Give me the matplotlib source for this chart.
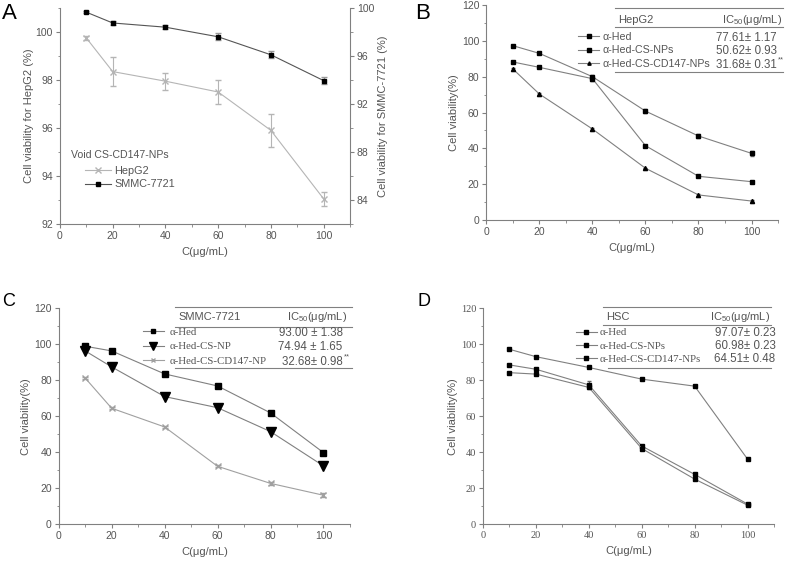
import matplotlib
matplotlib.use('Agg')
import matplotlib.pyplot as plt
from matplotlib.lines import Line2D
from matplotlib.ticker import MultipleLocator

plt.rcParams.update({
    'font.family': 'Liberation Sans',
    'mathtext.fontset': 'custom',
    'mathtext.rm': 'Liberation Sans',
    'mathtext.default': 'regular',
    'font.size': 8,
})

TXT = '#555555'
LINE = '#808080'
SANS = 'Liberation Sans'
SERIF = 'Liberation Serif'

conc = [10, 20, 40, 60, 80, 100]

# A: void CS-CD147-NPs
a_hepg2 = [99.75, 98.35, 97.95, 97.5, 95.9, 93.05]
a_hepg2_err = [0.1, 0.6, 0.35, 0.5, 0.7, 0.3]
a_smmc = [99.65, 98.75, 98.4, 97.6, 96.1, 93.95]
a_smmc_err = [0.1, 0.15, 0.15, 0.3, 0.3, 0.3]

# B: HepG2
b_hed = [97.3, 93.0, 80.0, 60.8, 46.9, 37.2]
b_hed_err = [0.5, 0.6, 1.0, 1.2, 0.9, 1.2]
b_np = [88.2, 85.2, 78.9, 41.5, 24.4, 21.4]
b_np_err = [0.4, 0.5, 1.2, 0.5, 0.5, 0.5]
b_cd = [84.3, 70.3, 50.8, 28.9, 14.0, 10.6]
b_cd_err = [0.4, 0.4, 0.4, 0.4, 0.4, 0.4]
b_ic50 = ['77.61\u00b1 1.17', '50.62\u00b1 0.93', '31.68\u00b1 0.31']
b_sig = ['', '', '**']

# C: SMMC-7721
c_hed = [98.9, 96.3, 83.5, 76.8, 61.8, 39.7]
c_np = [96.3, 87.4, 70.9, 64.7, 51.4, 32.3]
c_cd = [81.2, 64.4, 54.0, 32.1, 22.6, 16.0]
c_cd_err = [0.5, 0.6, 0.5, 0.6, 0.8, 1.0]
c_ic50 = ['93.00 \u00b1 1.38', '74.94 \u00b1 1.65', '32.68\u00b1 0.98']
c_sig = ['', '', '**']

# D: HSC
d_hed = [97.2, 93.1, 87.1, 80.6, 76.7, 36.1]
d_np = [88.5, 86.1, 77.4, 43.4, 27.6, 11.1]
d_np_err = [0.4, 0.6, 2.2, 0.6, 0.8, 0.5]
d_cd = [84.2, 83.4, 76.0, 42.0, 25.0, 10.5]
d_cd_err = [0.4, 0.6, 0.6, 0.5, 0.5, 0.4]
d_ic50 = ['97.07\u00b1 0.23', '60.98\u00b1 0.23', '64.51\u00b1 0.48']
d_sig = ['', '', '']

labels_np = ['\u03b1-Hed', '\u03b1-Hed-CS-NPs', '\u03b1-Hed-CS-CD147-NPs']
labels_c = ['\u03b1-Hed', '\u03b1-Hed-CS-NP', '\u03b1-Hed-CS-CD147-NP']


def tick_style(ax):
    ax.tick_params(which='both', direction='out', colors=LINE, labelcolor=TXT)
    ax.tick_params(which='major', length=3, pad=2, labelsize=7.5)
    ax.tick_params(which='minor', length=1.8)


def style_axes(ax, ymin, ymax, ystep, tickfont=SANS):
    ax.set_xlim(0, 110)
    ax.set_ylim(ymin, ymax)
    ax.xaxis.set_major_locator(MultipleLocator(20))
    ax.xaxis.set_minor_locator(MultipleLocator(10))
    ax.yaxis.set_major_locator(MultipleLocator(ystep))
    ax.yaxis.set_minor_locator(MultipleLocator(ystep / 2))
    for s in ['top', 'right']:
        ax.spines[s].set_visible(False)
    for s in ['left', 'bottom']:
        ax.spines[s].set_color(LINE)
        ax.spines[s].set_linewidth(0.8)
    tick_style(ax)
    for t in ax.get_xticklabels() + ax.get_yticklabels():
        t.set_fontfamily(tickfont)
    ax.set_xlabel('C(\u03bcg/mL)', color=TXT, fontsize=8, labelpad=4)


def draw_table(ax, title, values, sig, top, head, sep, rows, bottom, x0, x1, title_x, num_x, head_x,
               bot_x0=None):
    kw = dict(transform=ax.transAxes, color=LINE, lw=0.8, clip_on=False)
    ax.add_line(Line2D([x0, x1], [top, top], **kw))
    ax.add_line(Line2D([x0, x1], [sep, sep], **kw))
    ax.add_line(Line2D([x0 if bot_x0 is None else bot_x0, x1], [bottom, bottom], **kw))
    ax.text(title_x, head, title, transform=ax.transAxes, color=TXT, va='center', fontsize=8)
    ax.text(head_x, head, 'IC$_{50}$(\u03bcg/mL)', transform=ax.transAxes, color=TXT,
            va='center', ha='right', fontsize=8)
    for v, s, y in zip(values, sig, rows):
        ax.text(num_x, y, v, transform=ax.transAxes, color=TXT, va='center', ha='right', fontsize=8.3)
        if s:
            ax.text(num_x + 0.005, y + 0.025, s, transform=ax.transAxes, color=TXT, va='center',
                    ha='left', fontsize=5.5)


fig = plt.figure(figsize=(7.87, 5.62), dpi=100)
axA = fig.add_axes([0.0762, 0.6014, 0.3685, 0.3844])
axB = fig.add_axes([0.6180, 0.6085, 0.3706, 0.3826])
axC = fig.add_axes([0.0746, 0.0676, 0.3701, 0.3838])
axD = fig.add_axes([0.6137, 0.0676, 0.3698, 0.3838])

# ---- A
style_axes(axA, 92, 101, 2)
axA.set_yticks([92, 94, 96, 98, 100])
axA.set_ylabel('Cell viability for HepG2 (%)', color=TXT, fontsize=8, labelpad=1)
ax2 = axA.twinx()
ax2.set_ylim(82, 100)
ax2.yaxis.set_major_locator(MultipleLocator(4))
ax2.yaxis.set_minor_locator(MultipleLocator(2))
ax2.set_yticks([84, 88, 92, 96, 100])
for s in ['top', 'left', 'bottom']:
    ax2.spines[s].set_visible(False)
ax2.spines['right'].set_color(LINE)
ax2.spines['right'].set_linewidth(0.8)
tick_style(ax2)
ax2.set_ylabel('Cell viability for SMMC-7721 (%)', color=TXT, fontsize=8, labelpad=3)
hA1 = axA.errorbar(conc, a_hepg2, yerr=a_hepg2_err, color='#b5b5b5', lw=0.8, marker='x', ms=4,
                   capsize=2, elinewidth=0.8, label='HepG2')
hA2 = ax2.errorbar(conc, a_smmc, yerr=a_smmc_err, color='#555555', lw=0.8, marker='s', ms=3.5,
                   mfc='black', mec='black', capsize=2, ecolor='#999999', elinewidth=0.8, label='SMMC-7721')
axA.text(0.038, 0.319, 'Void CS-CD147-NPs', transform=axA.transAxes, color=TXT, fontsize=7.6, va='center')
ax2.legend(handles=[hA1[0], hA2[0]], labels=['HepG2', 'SMMC-7721'], loc='upper left',
           bbox_to_anchor=(0.086, 0.268), frameon=False, fontsize=7.8, handlelength=2.4,
           handletextpad=0.3, labelspacing=0.3, borderpad=0, borderaxespad=0, labelcolor=TXT)
fig.text(0.003, 0.976, 'A', fontsize=16, va='center')

# ---- B
style_axes(axB, 0, 120, 20)
axB.set_ylabel('Cell viability(%)', color=TXT, fontsize=8, labelpad=2)
ek = dict(color=LINE, lw=0.8, ms=3, mfc='black', mec='black', capsize=1.5, ecolor='#666666', elinewidth=0.8)
hB = [axB.errorbar(conc, b_hed, yerr=b_hed_err, marker='s', **ek),
      axB.errorbar(conc, b_np, yerr=b_np_err, marker='s', **ek),
      axB.errorbar(conc, b_cd, yerr=b_cd_err, marker='^', **ek)]
axB.legend(handles=[h[0] for h in hB], labels=labels_np, loc='upper left', bbox_to_anchor=(0.314, 0.874),
           frameon=False, fontsize=7.7, handlelength=2.0, handletextpad=0.3, labelspacing=0.3,
           borderpad=0, borderaxespad=0, labelcolor=TXT, markerscale=0.8)
draw_table(axB, 'HepG2', b_ic50, b_sig, top=0.986, head=0.930, sep=0.896, rows=[0.847, 0.786, 0.721],
           bottom=0.69, x0=0.44, x1=1.017, title_x=0.452, num_x=0.995, head_x=1.015)
fig.text(0.527, 0.976, 'B', fontsize=16, va='center')

# ---- C
style_axes(axC, 0, 120, 20)
axC.set_ylabel('Cell viability(%)', color=TXT, fontsize=8, labelpad=2)
hC = [axC.plot(conc, c_hed, color=LINE, lw=0.8, marker='s', ms=4, mfc='black', mec='black')[0],
      axC.plot(conc, c_np, color=LINE, lw=0.8, marker='v', ms=7, mfc='black', mec='black')[0],
      axC.errorbar(conc, c_cd, yerr=c_cd_err, color='#a0a0a0', lw=0.8, marker='x', ms=4,
                   capsize=2, elinewidth=0.8)[0]]
axC.legend(handles=hC, labels=labels_c, loc='upper left', bbox_to_anchor=(0.288, 0.912), frameon=False,
           handlelength=2.0, handletextpad=0.45, labelspacing=0.45, borderpad=0,
           borderaxespad=0, labelcolor=TXT, markerscale=0.8, prop={'family': SERIF, 'size': 7.8})
draw_table(axC, 'SMMC-7721', c_ic50, c_sig, top=1.005, head=0.961, sep=0.912, rows=[0.886, 0.82, 0.751],
           bottom=0.725, x0=0.40, x1=1.007, title_x=0.41, num_x=0.975, head_x=0.99)
fig.text(0.003, 0.463, 'C', fontsize=13, va='center')

# ---- D
style_axes(axD, 0, 120, 20, tickfont=SERIF)
axD.set_ylabel('Cell viability(%)', color=TXT, fontsize=8, labelpad=2)
ek = dict(color=LINE, lw=0.8, ms=3, mfc='black', mec='black', capsize=1.5, ecolor='#666666', elinewidth=0.8)
hD = [axD.plot(conc, d_hed, marker='s', color=LINE, lw=0.8, ms=3, mfc='black', mec='black')[0],
      axD.errorbar(conc, d_np, yerr=d_np_err, marker='s', **ek)[0],
      axD.errorbar(conc, d_cd, yerr=d_cd_err, marker='s', **ek)[0]]
axD.legend(handles=hD, labels=labels_np, loc='upper left', bbox_to_anchor=(0.318, 0.91), frameon=False,
           handlelength=2.0, handletextpad=0.2, labelspacing=0.35, borderpad=0, borderaxespad=0,
           labelcolor=TXT, markerscale=0.8, prop={'family': SERIF, 'size': 7.8})
draw_table(axD, 'HSC', d_ic50, d_sig, top=1.005, head=0.961, sep=0.922, rows=[0.884, 0.827, 0.765],
           bottom=0.722, x0=0.412, x1=0.99, title_x=0.423, num_x=1.005, head_x=0.985, bot_x0=0.43)
fig.text(0.531, 0.463, 'D', fontsize=13, va='center')

fig.savefig('out.png', dpi=100)
